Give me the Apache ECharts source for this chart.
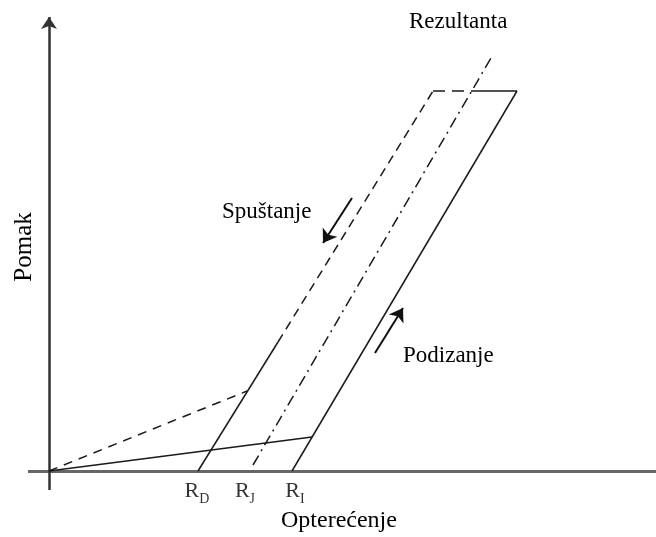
<!DOCTYPE html>
<html>
<head>
<meta charset="utf-8">
<script src="https://cdn.jsdelivr.net/npm/echarts@6/dist/echarts.min.js"></script>
<style>
  html, body { margin: 0; padding: 0; background: #fff; }
  #chart { width: 656px; height: 537px; }
</style>
</head>
<body>
<div id="chart"></div>
<script>
// opterećenje (x) / pomak (y), arbitrary units, origin at axis crossing
var subscripts = ['D', 'J', 'I'];
var rPoints = [[148, 0], [196, 0], [246, 0]];   // R_D, R_J, R_I labels on load axis

// solid branches
var loadLine = [[0, 0], [263, 34]];
var podizanje = [[243, 0], [468, 380]];
var topSolid = [[423, 380], [468, 380]];
var spustanjeLow = [[149, 0], [229, 129]];
// dashed branches
var unloadLine = [[0, 0], [198, 80]];
var spustanjeHigh = [[229, 129], [384, 380]];
var topDashed = [[384, 380], [423, 380]];
// resultant (dash-dot)
var rezultanta = [[204, 6], [442, 413]];
// direction arrows
var arrowDown = [[303, 273], [274, 228]];
var arrowUp = [[326, 118], [354, 163]];
// axes
var xAxisLine = [[-21, 0], [614, 0]];
var yAxisLine = [[0, -19], [0, 454]];

var font = '"Liberation Serif", "Times New Roman", serif';
var chart = echarts.init(document.getElementById('chart'));

function seg(coords, width, type, color) {
  return {
    type: 'lines',
    coordinateSystem: 'cartesian2d',
    silent: true,
    symbol: 'none',
    lineStyle: { color: color || '#1a1a1a', width: width, type: type, opacity: 1 },
    data: [{ coords: coords }]
  };
}

function arrow(coords, width, color, size) {
  var s = seg(coords, width, 'solid', color);
  s.symbol = ['none', 'arrow'];
  s.symbolSize = size;
  return s;
}

var option = {
  animation: false,
  grid: { left: 0, right: 0, top: 0, bottom: 0 },
  xAxis: { type: 'value', min: -49, max: 607, show: false },
  yAxis: { type: 'value', min: -66, max: 471, show: false },
  graphic: [
    { type: 'text', left: 409, top: 10, style: { text: 'Rezultanta', font: '23px ' + font, fill: '#000' } },
    { type: 'text', left: 222, top: 200, style: { text: 'Spuštanje', font: '23px ' + font, fill: '#000' } },
    { type: 'text', left: 403, top: 344, style: { text: 'Podizanje', font: '23px ' + font, fill: '#000' } },
    { type: 'text', left: 281, top: 509, style: { text: 'Opterećenje', font: '24px ' + font, fill: '#000' } },
    { type: 'text', x: 24, y: 247, rotation: Math.PI / 2,
      style: { text: 'Pomak', font: '25px ' + font, fill: '#000', align: 'center', verticalAlign: 'middle' } }
  ],
  series: [
    seg(xAxisLine, 3, 'solid', '#666'),
    arrow(yAxisLine, 2.5, '#333', [10, 12]),
    seg(loadLine, 1.5, 'solid'),
    seg(podizanje, 1.5, 'solid'),
    seg(topSolid, 1.5, 'solid'),
    seg(spustanjeLow, 1.5, 'solid'),
    seg(unloadLine, 1.5, [9, 7]),
    seg(spustanjeHigh, 1.5, [9, 6]),
    seg(topDashed, 1.5, [12, 7]),
    seg(rezultanta, 1.5, [11, 5, 2, 5]),
    arrow(arrowDown, 2, '#111', [10, 13]),
    arrow(arrowUp, 2, '#111', [10, 13]),
    {
      type: 'scatter',
      symbolSize: 0,
      silent: true,
      data: rPoints.map(function (p, i) { return { value: p, sub: subscripts[i] }; }),
      label: {
        show: true,
        position: 'bottom',
        distance: 8,
        formatter: function (p) { return '{r|R}{s|' + p.data.sub + '}'; },
        rich: {
          r: { fontFamily: font, fontSize: 22, color: '#000', lineHeight: 24, verticalAlign: 'middle' },
          s: { fontFamily: font, fontSize: 14, color: '#000', lineHeight: 14, verticalAlign: 'bottom', padding: [0, 0, -3, 0] }
        }
      }
    }
  ]
};
chart.setOption(option);
</script>
</body>
</html>
